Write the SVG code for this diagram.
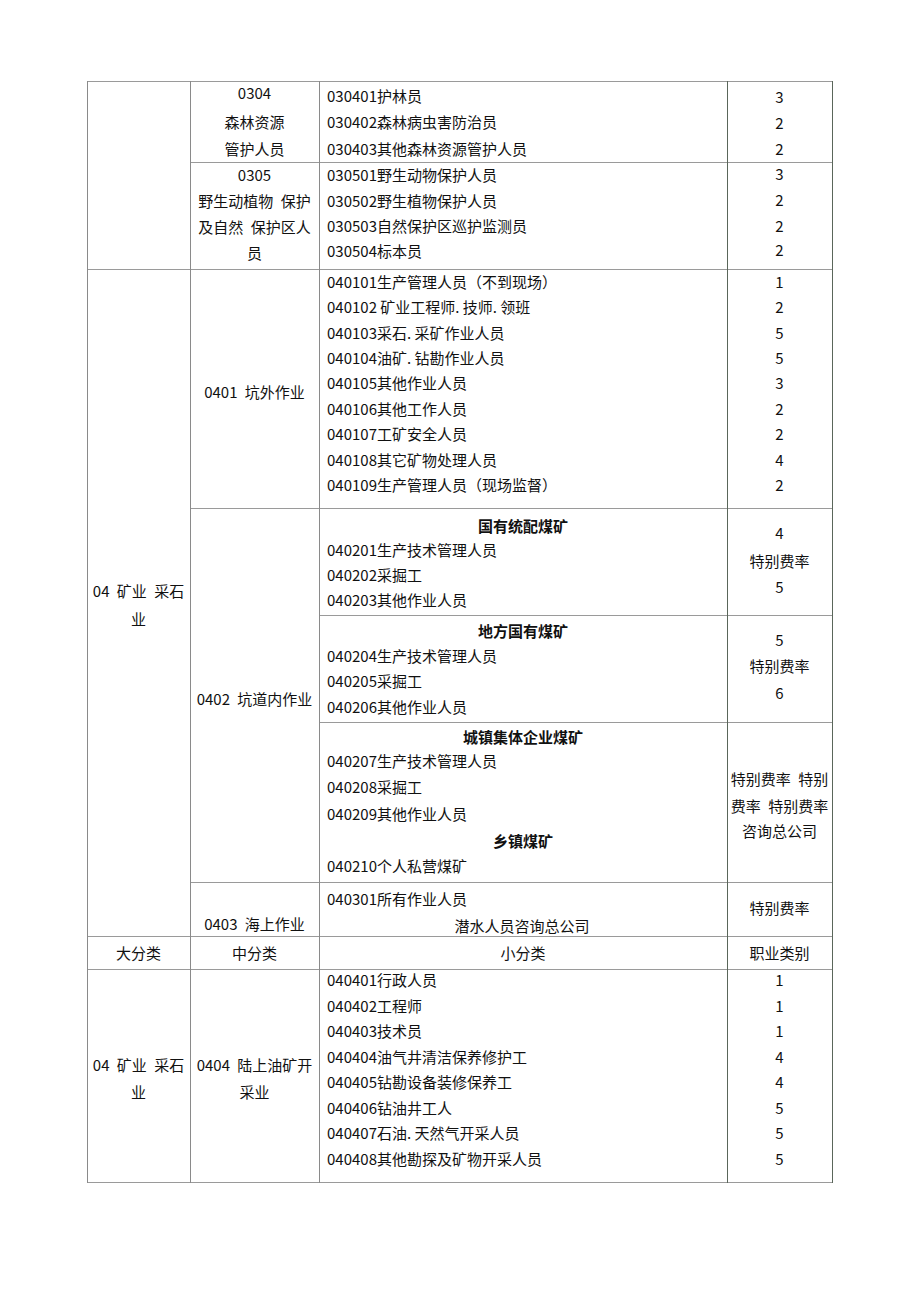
<svg xmlns="http://www.w3.org/2000/svg" width="920" height="1302" viewBox="0 0 920 1302">
<style>
text{font-family:"Noto Sans CJK SC","Noto Sans",sans-serif;font-size:15px;fill:#111}
.c{text-anchor:middle}
.b{font-weight:bold}
.w{word-spacing:4px}
.h{stroke:#9a9a9a;stroke-width:1;fill:none}
.v{stroke:#8a8a8a;stroke-width:1;fill:none}
.d{stroke:#5a665a;stroke-width:1;fill:none}
</style>
<rect width="920" height="1302" fill="#fff"/>
<g id="grid">
<path class="h" d="M87 81.5H832M190 162.5H832M87 269.5H832M190 508.5H832M319 615.5H832M319 722.5H832M190 882.5H832M87 936.5H832M87 969.5H832M87 1182.5H832"/>
<path class="v" d="M87.5 81V1183M190.5 81V1183M319.5 81V1183"/>
<path class="d" d="M727.5 81V1183M832.5 81V1183"/>
</g>
<g id="r0304">
<text class="c" x="254.5" y="98.5">0304</text>
<text class="c" x="254.5" y="128">森林资源</text>
<text class="c" x="254.5" y="155">管护人员</text>
<text x="327" y="102">030401护林员</text>
<text x="327" y="128">030402森林病虫害防治员</text>
<text x="327" y="154.5">030403其他森林资源管护人员</text>
<text class="c" x="779.5" y="102.5">3</text>
<text class="c" x="779.5" y="128.5">2</text>
<text class="c" x="779.5" y="154.5">2</text>
</g>
<g id="r0305">
<text class="c" x="254.5" y="180.5">0305</text>
<text class="c w" x="254.5" y="206.5">野生动植物 保护</text>
<text class="c w" x="254.5" y="232.5">及自然 保护区人</text>
<text class="c" x="254.5" y="259">员</text>
<text x="327" y="180.5">030501野生动物保护人员</text>
<text x="327" y="206.5">030502野生植物保护人员</text>
<text x="327" y="232">030503自然保护区巡护监测员</text>
<text x="327" y="257">030504标本员</text>
<text class="c" x="779.5" y="179.5">3</text>
<text class="c" x="779.5" y="205.5">2</text>
<text class="c" x="779.5" y="231.5">2</text>
<text class="c" x="779.5" y="256">2</text>
</g>
<g id="c04a">
<text class="c w" x="138.5" y="597">04 矿业 采石</text>
<text class="c" x="138.5" y="625">业</text>
</g>
<g id="r0401">
<text class="c w" x="254.5" y="398">0401 坑外作业</text>
<text x="327" y="287.5">040101生产管理人员（不到现场）</text>
<text x="327" y="313">040102 矿业工程师. 技师. 领班</text>
<text x="327" y="338.5">040103采石. 采矿作业人员</text>
<text x="327" y="364">040104油矿. 钻勘作业人员</text>
<text x="327" y="389">040105其他作业人员</text>
<text x="327" y="414.5">040106其他工作人员</text>
<text x="327" y="440">040107工矿安全人员</text>
<text x="327" y="465.5">040108其它矿物处理人员</text>
<text x="327" y="491">040109生产管理人员（现场监督）</text>
<text class="c" x="779.5" y="287.5">1</text>
<text class="c" x="779.5" y="313">2</text>
<text class="c" x="779.5" y="338.5">5</text>
<text class="c" x="779.5" y="364">5</text>
<text class="c" x="779.5" y="389">3</text>
<text class="c" x="779.5" y="414.5">2</text>
<text class="c" x="779.5" y="440">2</text>
<text class="c" x="779.5" y="465.5">4</text>
<text class="c" x="779.5" y="491">2</text>
</g>
<g id="r0402">
<text class="c w" x="254.5" y="704.5">0402 坑道内作业</text>
</g>
<g id="r0402a">
<text class="c b" x="523" y="532">国有统配煤矿</text>
<text x="327" y="555.5">040201生产技术管理人员</text>
<text x="327" y="581">040202采掘工</text>
<text x="327" y="606">040203其他作业人员</text>
<text class="c" x="779.5" y="538.5">4</text>
<text class="c" x="779.5" y="567">特别费率</text>
<text class="c" x="779.5" y="592.5">5</text>
</g>
<g id="r0402b">
<text class="c b" x="523" y="637">地方国有煤矿</text>
<text x="327" y="662">040204生产技术管理人员</text>
<text x="327" y="687">040205采掘工</text>
<text x="327" y="712.5">040206其他作业人员</text>
<text class="c" x="779.5" y="645.5">5</text>
<text class="c" x="779.5" y="672">特别费率</text>
<text class="c" x="779.5" y="698.5">6</text>
</g>
<g id="r0402c">
<text class="c b" x="523" y="743">城镇集体企业煤矿</text>
<text x="327" y="767">040207生产技术管理人员</text>
<text x="327" y="793">040208采掘工</text>
<text x="327" y="819.5">040209其他作业人员</text>
<text class="c b" x="523" y="847">乡镇煤矿</text>
<text x="327" y="872">040210个人私营煤矿</text>
<text class="c w" x="779.5" y="785">特别费率 特别</text>
<text class="c w" x="779.5" y="811.5">费率 特别费率</text>
<text class="c" x="779.5" y="837">咨询总公司</text>
</g>
<g id="r0403">
<text class="c w" x="254.5" y="930">0403 海上作业</text>
<text x="327" y="904.5">040301所有作业人员</text>
<text class="c" x="522" y="931.5">潜水人员咨询总公司</text>
<text class="c" x="779.5" y="914">特别费率</text>
</g>
<g id="header">
<text class="c" x="138.5" y="958.5">大分类</text>
<text class="c" x="254.5" y="958.5">中分类</text>
<text class="c" x="523" y="958.5">小分类</text>
<text class="c" x="779.5" y="958.5">职业类别</text>
</g>
<g id="r0404">
<text class="c w" x="138.5" y="1070.5">04 矿业 采石</text>
<text class="c" x="138.5" y="1097.5">业</text>
<text class="c w" x="254.5" y="1070.5">0404 陆上油矿开</text>
<text class="c" x="254.5" y="1097.5">采业</text>
<text x="327" y="986">040401行政人员</text>
<text x="327" y="1011.5">040402工程师</text>
<text x="327" y="1037">040403技术员</text>
<text x="327" y="1062.5">040404油气井清洁保养修护工</text>
<text x="327" y="1088">040405钻勘设备装修保养工</text>
<text x="327" y="1113.5">040406钻油井工人</text>
<text x="327" y="1139">040407石油. 天然气开采人员</text>
<text x="327" y="1164.5">040408其他勘探及矿物开采人员</text>
<text class="c" x="779.5" y="986">1</text>
<text class="c" x="779.5" y="1011.5">1</text>
<text class="c" x="779.5" y="1037">1</text>
<text class="c" x="779.5" y="1062.5">4</text>
<text class="c" x="779.5" y="1088">4</text>
<text class="c" x="779.5" y="1113.5">5</text>
<text class="c" x="779.5" y="1139">5</text>
<text class="c" x="779.5" y="1164.5">5</text>
</g>
</svg>
